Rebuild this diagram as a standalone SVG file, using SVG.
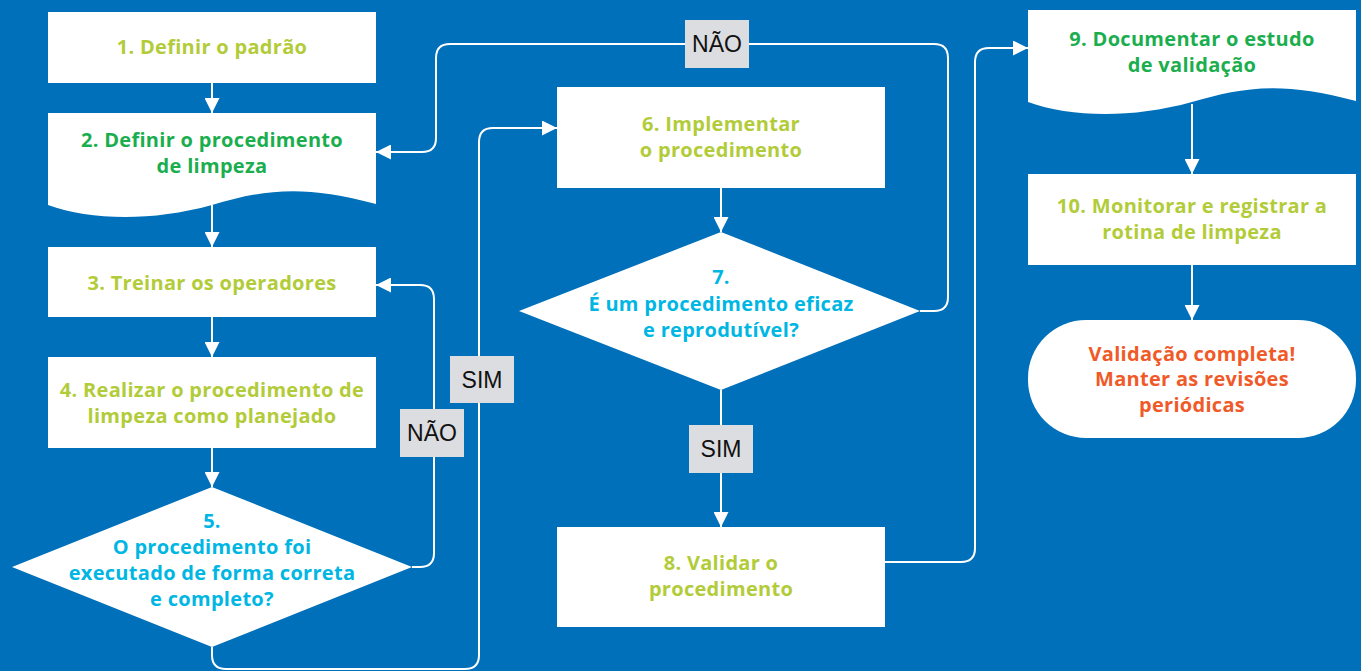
<svg xmlns="http://www.w3.org/2000/svg" width="1361" height="671" viewBox="0 0 1361 671">
<defs>
<style>
.bg{fill:#0070ba}
.box{fill:#fff}
.t{font-family:"Open Sans","Liberation Sans",sans-serif;font-weight:bold;font-size:20px;letter-spacing:0.3px;text-anchor:middle}
.lg{fill:#b2cc39}
.g{fill:#1bae4e}
.c{fill:#00b6e3}
.o{fill:#f05a28}
.conn{fill:none;stroke:#fff;stroke-width:2}
.lbl{fill:#dcdde0}
.lt{font-family:"Liberation Sans",Arial,sans-serif;font-size:23px;text-anchor:middle;fill:#111}
</style>
<marker id="ah" viewBox="0 0 10 10" refX="10" refY="5" markerWidth="15" markerHeight="15" markerUnits="userSpaceOnUse" orient="auto">
<path d="M0,0 L10,5 L0,10 Z" fill="#fff"/>
</marker>
</defs>
<rect class="bg" x="0" y="0" width="1361" height="671"/>

<g id="connectors">
<path class="conn" d="M212,83 V113" marker-end="url(#ah)"/>
<path class="conn" d="M212,205 V247" marker-end="url(#ah)"/>
<path class="conn" d="M212,317 V357" marker-end="url(#ah)"/>
<path class="conn" d="M212,448 V487" marker-end="url(#ah)"/>
<path class="conn" d="M412,567 H420 Q434,567 434,553 V299 Q434,285 420,285 H376" marker-end="url(#ah)"/>
<path class="conn" d="M212,647 V655 Q212,669 226,669 H465 Q479,669 479,655 V142 Q479,128 493,128 H557" marker-end="url(#ah)"/>
<path class="conn" d="M721,188 V232" marker-end="url(#ah)"/>
<path class="conn" d="M920,311 H934 Q948,311 948,297 V58 Q948,44 934,44 H450 Q436,44 436,58 V138 Q436,152 422,152 H376" marker-end="url(#ah)"/>
<path class="conn" d="M721,390 V527" marker-end="url(#ah)"/>
<path class="conn" d="M885,562 H961 Q975,562 975,548 V62 Q975,48 989,48 H1028" marker-end="url(#ah)"/>
<path class="conn" d="M1192,104 V174" marker-end="url(#ah)"/>
<path class="conn" d="M1192,265 V320" marker-end="url(#ah)"/>
<g id="label-nao-top"><rect class="lbl" x="685" y="20" width="64" height="48"/><text class="lt" x="717" y="52">NÃO</text></g>
<g id="label-nao-left"><rect class="lbl" x="400" y="409" width="64" height="48"/><text class="lt" x="432" y="441">NÃO</text></g>
<g id="label-sim-left"><rect class="lbl" x="450" y="356" width="64" height="47"/><text class="lt" x="482" y="388">SIM</text></g>
<g id="label-sim-center"><rect class="lbl" x="689" y="425" width="64" height="48"/><text class="lt" x="721" y="457">SIM</text></g>
</g>

<g id="n1"><rect class="box" x="48" y="12" width="328" height="71"/><text class="t lg" x="212" y="54">1. Definir o padrão</text></g>

<g id="n2"><path class="box" d="M48,113 H376 V204 C300,183 260,191 212,205 C150,222 90,220 48,205 Z"/>
<text class="t g" x="212" y="147">2. Definir o procedimento</text><text class="t g" x="212" y="173">de limpeza</text></g>

<g id="n3"><rect class="box" x="48" y="247" width="328" height="70"/><text class="t lg" x="212" y="290">3. Treinar os operadores</text></g>

<g id="n4"><rect class="box" x="48" y="357" width="328" height="91"/>
<text class="t lg" x="212" y="397">4. Realizar o procedimento de</text><text class="t lg" x="212" y="423">limpeza como planejado</text></g>

<g id="n5"><path class="box" d="M212,487 L412,567 L212,647 L12,567 Z"/>
<text class="t c" x="212" y="528">5.</text><text class="t c" x="212" y="554">O procedimento foi</text>
<text class="t c" x="212" y="580">executado de forma correta</text><text class="t c" x="212" y="606">e completo?</text></g>

<g id="n6"><rect class="box" x="557" y="87" width="328" height="101"/>
<text class="t lg" x="721" y="131">6. Implementar</text><text class="t lg" x="721" y="157">o procedimento</text></g>

<g id="n7"><path class="box" d="M721,232 L920,311 L721,390 L519,311 Z"/>
<text class="t c" x="721" y="284">7.</text><text class="t c" x="721" y="311">É um procedimento eficaz</text><text class="t c" x="721" y="337">e reprodutível?</text></g>

<g id="n8"><rect class="box" x="557" y="527" width="328" height="100"/>
<text class="t lg" x="721" y="570">8. Validar o</text><text class="t lg" x="721" y="596">procedimento</text></g>

<g id="n9"><path class="box" d="M1028,10 H1356 V101 C1280,80 1240,88 1192,102 C1130,119 1070,117 1028,102 Z"/>
<text class="t g" x="1192" y="46">9. Documentar o estudo</text><text class="t g" x="1192" y="72">de validação</text></g>

<g id="n10"><rect class="box" x="1028" y="174" width="328" height="91"/>
<text class="t lg" x="1192" y="213">10. Monitorar e registrar a</text><text class="t lg" x="1192" y="239">rotina de limpeza</text></g>

<g id="n11"><rect class="box" x="1028" y="320" width="328" height="118" rx="58" ry="58"/>
<text class="t o" x="1192" y="361">Validação completa!</text><text class="t o" x="1192" y="386">Manter as revisões</text><text class="t o" x="1192" y="412">periódicas</text></g>
</svg>
